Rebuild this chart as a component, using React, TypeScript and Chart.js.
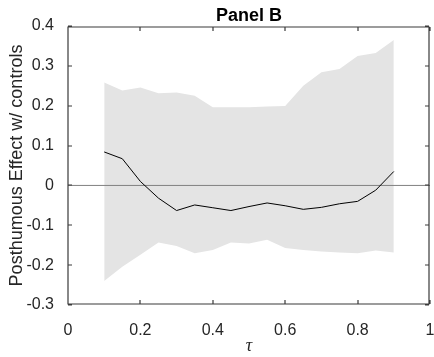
import React, { useEffect, useRef } from "react";
import { Chart, registerables } from "chart.js";

Chart.register(...registerables);

const tau = [0.1, 0.15, 0.2, 0.25, 0.3, 0.35, 0.4, 0.45, 0.5, 0.55, 0.6, 0.65, 0.7, 0.75, 0.8, 0.85, 0.9];
const estimate = [0.084, 0.067, 0.01, -0.032, -0.063, -0.049, -0.056, -0.063, -0.053, -0.044, -0.051, -0.06, -0.055, -0.046, -0.04, -0.012, 0.035];
const upperCI = [0.258, 0.238, 0.246, 0.231, 0.233, 0.225, 0.196, 0.196, 0.196, 0.198, 0.199, 0.25, 0.284, 0.292, 0.325, 0.332, 0.365];
const lowerCI = [-0.24, -0.204, -0.174, -0.143, -0.152, -0.17, -0.162, -0.143, -0.146, -0.136, -0.157, -0.162, -0.166, -0.168, -0.17, -0.163, -0.168];
const zeroLineX = [0, 1];
const zeroLineY = [0, 0];

const titleText = "Panel B";
const yTitle = "Posthumous Effect w/ controls";
const xTitle = "τ";

const W = 434;
const H = 357;
const FONT = "'Liberation Sans', Arial, Helvetica, sans-serif";
const TEXT = "#262626";
const BOX = "#3a3a3a";

const pts = (xs: number[], ys: number[]) => xs.map((x, i) => ({ x, y: ys[i] }));

const boxPlugin = {
  id: "matlabBox",
  afterDraw(chart: any) {
    const ctx = chart.ctx;
    const { left, right, top, bottom } = chart.chartArea;
    const xs = chart.scales.x;
    const ys = chart.scales.y;
    const L = Math.round(left);
    const R = Math.round(right) - 1;
    const T = Math.round(top) + 1;
    const B = Math.round(bottom) - 1;
    ctx.save();
    ctx.globalAlpha = 1;
    ctx.setLineDash([]);
    ctx.strokeStyle = BOX;
    ctx.lineWidth = 1.2;
    ctx.beginPath();
    ctx.moveTo(L, T);
    ctx.lineTo(R, T);
    ctx.lineTo(R, B);
    ctx.lineTo(L, B);
    ctx.closePath();
    const tl = 4;
    xs.ticks.forEach((t: any) => {
      const px = Math.round(xs.getPixelForValue(t.value));
      ctx.moveTo(px, B);
      ctx.lineTo(px, B - tl);
      ctx.moveTo(px, T);
      ctx.lineTo(px, T + tl);
    });
    ys.ticks.forEach((t: any) => {
      const py = Math.round(ys.getPixelForValue(t.value));
      ctx.moveTo(L, py);
      ctx.lineTo(L + tl, py);
      ctx.moveTo(R, py);
      ctx.lineTo(R - tl, py);
    });
    ctx.stroke();
    ctx.fillStyle = "#000";
    ctx.font = `bold 18px ${FONT}`;
    ctx.textAlign = "center";
    ctx.textBaseline = "alphabetic";
    ctx.fillText(titleText, (left + right) / 2, 21);
    ctx.restore();
  },
};

export default function App() {
  const ref = useRef<HTMLCanvasElement | null>(null);
  useEffect(() => {
    if (!ref.current) return;
    const chart = new Chart(ref.current, {
      type: "line",
      data: {
        datasets: [
          {
            label: "upper",
            data: pts(tau, upperCI),
            borderWidth: 0,
            pointRadius: 0,
            backgroundColor: "#e4e4e4",
            borderColor: "rgba(0,0,0,0)",
            fill: 1,
            order: 3,
          },
          {
            label: "lower",
            data: pts(tau, lowerCI),
            borderWidth: 0,
            pointRadius: 0,
            borderColor: "rgba(0,0,0,0)",
            fill: false,
            order: 4,
          },
          {
            label: "zero",
            data: pts(zeroLineX, zeroLineY),
            borderWidth: 1,
            borderColor: "#808080",
            pointRadius: 0,
            fill: false,
            order: 2,
          },
          {
            label: "estimate",
            data: pts(tau, estimate),
            borderWidth: 1,
            borderColor: "#000000",
            pointRadius: 0,
            fill: false,
            tension: 0,
            order: 1,
          },
        ],
      },
      options: {
        animation: false,
        responsive: false,
        devicePixelRatio: 1,
        layout: { padding: { top: 26, right: 4, left: 0, bottom: 0 } },
        plugins: {
          legend: { display: false },
          tooltip: { enabled: false },
          title: { display: false },
          filler: { drawTime: "beforeDatasetsDraw" },
        },
        scales: {
          x: {
            type: "linear",
            min: 0,
            max: 1,
            grid: { display: false },
            border: { display: false },
            ticks: {
              stepSize: 0.2,
              padding: 8,
              color: TEXT,
              font: { family: FONT, size: 16 },
              maxRotation: 0,
              callback: (v: any) => String(Math.round(Number(v) * 10) / 10),
            },
            title: {
              display: true,
              text: xTitle,
              color: TEXT,
              font: { family: "'Liberation Serif', 'DejaVu Serif', serif", size: 18, style: "italic" },
              padding: { top: 0, bottom: 0 },
            },
            afterFit: (s: any) => {
              s.height = 52;
              s.paddingLeft = 0;
              s.paddingRight = 0;
            },
          },
          y: {
            type: "linear",
            min: -0.3,
            max: 0.4,
            grid: { display: false },
            border: { display: false },
            ticks: {
              stepSize: 0.1,
              padding: 6,
              color: TEXT,
              font: { family: FONT, size: 16 },
              callback: (v: any) => String(Math.round(Number(v) * 10) / 10),
            },
            title: {
              display: true,
              text: yTitle,
              color: TEXT,
              font: { family: FONT, size: 18 },
              padding: { top: 6, bottom: 0 },
            },
            afterFit: (s: any) => {
              s.width = 68;
              s.paddingTop = 0;
              s.paddingBottom = 0;
            },
          },
        },
      },
      plugins: [boxPlugin],
    } as any);
    return () => chart.destroy();
  }, []);
  return (
    <div style={{ position: "fixed", left: 0, top: 0, width: W, height: H, background: "#fff" }}>
      <canvas ref={ref} width={W} height={H} style={{ display: "block" }} />
    </div>
  );
}
